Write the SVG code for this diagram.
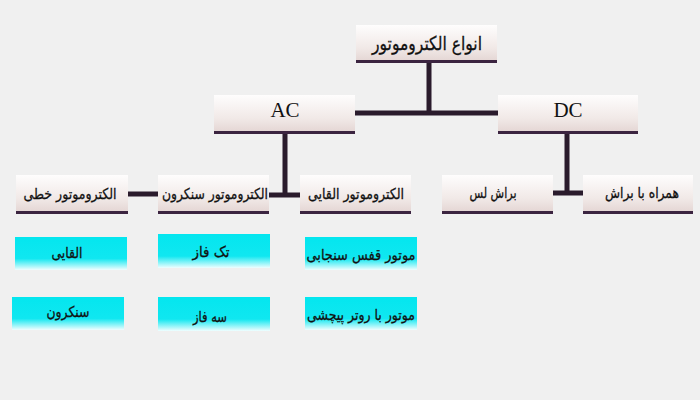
<svg xmlns="http://www.w3.org/2000/svg" width="700" height="400" viewBox="0 0 700 400">
<defs>
<linearGradient id="beige" x1="0" y1="0" x2="0" y2="1">
<stop offset="0" stop-color="#fefdfd"/>
<stop offset="0.6" stop-color="#f1e9e7"/>
<stop offset="1" stop-color="#e2d3d1"/>
</linearGradient>
<linearGradient id="cyan" x1="0" y1="0" x2="0" y2="1">
<stop offset="0" stop-color="#04e6ef"/>
<stop offset="0.65" stop-color="#10e7f0"/>
<stop offset="1" stop-color="#f0feff"/>
</linearGradient>
</defs>
<style>
.bx{fill:url(#beige);}
.bb{fill:#3b2440;}
.cy{fill:url(#cyan);}
.fa{font-family:"DejaVu Sans",sans-serif;font-size:15px;fill:#111;stroke:#111;stroke-width:0.3;text-anchor:middle;}
.fa2{font-family:"DejaVu Sans",sans-serif;font-size:19px;fill:#111;stroke:#111;stroke-width:0.3;text-anchor:middle;}
.en{font-family:"Liberation Serif",serif;font-size:21px;fill:#111;text-anchor:middle;}
.ln{stroke:#2a1b2c;stroke-width:5;fill:none;}
</style>
<rect width="700" height="400" fill="#f0f0f0"/>
<g id="connectors">
<path class="ln" d="M429,62 V113 M355,113 H498"/>
<path class="ln" d="M285,133 V195 M269,195 H300"/>
<path class="ln" d="M128,194 H158"/>
<path class="ln" d="M567,133 V193 M553,193 H583"/>
</g>
<g id="n-root"><rect class="bx" x="356" y="25" width="141" height="38"/><rect class="bb" x="356" y="60" width="141" height="3"/><text class="fa2" x="427" y="50" textLength="110" lengthAdjust="spacingAndGlyphs">انواع الکتروموتور</text></g>
<g id="n-ac"><rect class="bx" x="214" y="95" width="141" height="39"/><rect class="bb" x="214" y="131" width="141" height="3"/><text class="en" x="285" y="117">AC</text></g>
<g id="n-dc"><rect class="bx" x="498" y="95" width="140" height="39"/><rect class="bb" x="498" y="131" width="140" height="3"/><text class="en" x="568" y="117">DC</text></g>
<g id="n-linear"><rect class="bx" x="16" y="175" width="112" height="39"/><rect class="bb" x="16" y="211" width="112" height="3"/><text class="fa" x="70" y="199" textLength="93" lengthAdjust="spacingAndGlyphs">الکتروموتور خطی</text></g>
<g id="n-sync"><rect class="bx" x="158" y="175" width="111" height="39"/><rect class="bb" x="158" y="211" width="111" height="3"/><text class="fa" x="215" y="199" textLength="106" lengthAdjust="spacingAndGlyphs">الکتروموتور سنکرون</text></g>
<g id="n-ind"><rect class="bx" x="300" y="175" width="111" height="39"/><rect class="bb" x="300" y="211" width="111" height="3"/><text class="fa" x="356" y="199" textLength="96" lengthAdjust="spacingAndGlyphs">الکتروموتور القایی</text></g>
<g id="n-brushless"><rect class="bx" x="442" y="175" width="111" height="39"/><rect class="bb" x="442" y="211" width="111" height="3"/><text class="fa" x="493" y="198" textLength="47" lengthAdjust="spacingAndGlyphs">براش لس</text></g>
<g id="n-brush"><rect class="bx" x="583" y="175" width="110" height="39"/><rect class="bb" x="583" y="211" width="110" height="3"/><text class="fa" x="642" y="198" textLength="74" lengthAdjust="spacingAndGlyphs">همراه با براش</text></g>
<g id="c-ind"><rect class="cy" x="15" y="237" width="112" height="33"/><text class="fa" x="67" y="258" textLength="31" lengthAdjust="spacingAndGlyphs">القایی</text></g>
<g id="c-sync"><rect class="cy" x="12" y="297" width="112" height="33"/><text class="fa" x="68" y="317" textLength="43" lengthAdjust="spacingAndGlyphs">سنکرون</text></g>
<g id="c-single"><rect class="cy" x="158" y="234" width="112" height="34"/><text class="fa" x="211" y="257" textLength="37" lengthAdjust="spacingAndGlyphs">تک فاز</text></g>
<g id="c-three"><rect class="cy" x="158" y="297" width="112" height="34"/><text class="fa" x="210" y="322" textLength="34" lengthAdjust="spacingAndGlyphs">سه فاز</text></g>
<g id="c-squirrel"><rect class="cy" x="305" y="237" width="112" height="33"/><text class="fa" x="361" y="260" textLength="109" lengthAdjust="spacingAndGlyphs">موتور قفس سنجابی</text></g>
<g id="c-wound"><rect class="cy" x="305" y="297" width="112" height="33"/><text class="fa" x="361" y="320" textLength="108" lengthAdjust="spacingAndGlyphs">موتور با روتر پیچشی</text></g>
</svg>
